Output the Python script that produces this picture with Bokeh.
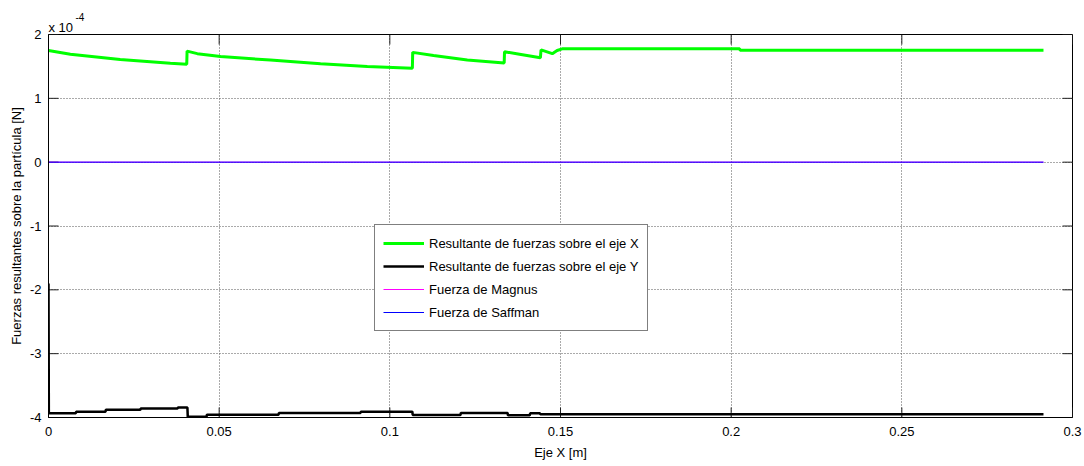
import math
from bokeh.plotting import figure
from bokeh.models import Range1d, FixedTicker, Legend, LegendItem, Title
from bokeh.embed import file_html
from bokeh.resources import INLINE

# Forces on the particle along the X axis, in units of 1e-4 N
x_fx = [0.0, 0.0064, 0.021, 0.0357, 0.0405, 0.0406, 0.0436, 0.0504, 0.065, 0.0797,
        0.0835, 0.0934, 0.1066, 0.1067, 0.1128, 0.1227, 0.1335, 0.1336, 0.138, 0.1441,
        0.1443, 0.1476, 0.149, 0.1505, 0.2025, 0.2026, 0.2915]
fx_e4 = [1.75, 1.69, 1.61, 1.55, 1.535, 1.74, 1.70, 1.655, 1.60, 1.54,
         1.53, 1.50, 1.47, 1.72, 1.67, 1.60, 1.555, 1.73, 1.69, 1.635,
         1.76, 1.70, 1.75, 1.775, 1.775, 1.755, 1.755]

# Resultant force along the Y axis, in units of 1e-4 N
x_fy = [0.0, 0.0001, 0.008, 0.0081, 0.0167, 0.0168, 0.0269, 0.027, 0.0378, 0.0379,
        0.0407, 0.0408, 0.0463, 0.0464, 0.0674, 0.0675, 0.0914, 0.0915, 0.1066, 0.1067,
        0.1207, 0.1208, 0.1345, 0.1346, 0.141, 0.1411, 0.144, 0.1441, 0.2915]
fy_e4 = [-1.9, -3.935, -3.935, -3.91, -3.91, -3.88, -3.88, -3.86, -3.86, -3.845,
         -3.845, -3.99, -3.99, -3.955, -3.955, -3.93, -3.93, -3.91, -3.91, -3.96,
         -3.96, -3.93, -3.93, -3.965, -3.965, -3.935, -3.935, -3.95, -3.95]

# Magnus and Saffman forces (zero along the path)
x_lift = [0.0, 0.2915]
magnus_e4 = [0.0, 0.0]
saffman_e4 = [0.0, 0.0]

x_ticks = [0, 0.05, 0.1, 0.15, 0.2, 0.25, 0.3]
x_tick_labels = ["0", "0.05", "0.1", "0.15", "0.2", "0.25", "0.3"]
y_ticks = [-4, -3, -2, -1, 0, 1, 2]
y_tick_labels = ["-4", "-3", "-2", "-1", "0", "1", "2"]

labels = ["Resultante de fuerzas sobre el eje X",
          "Resultante de fuerzas sobre el eje Y",
          "Fuerza de Magnus",
          "Fuerza de Saffman"]

FONT = "Liberation Sans"
FS = "13px"
X_MIN, X_MAX = 0.0, 0.3
Y_MIN, Y_MAX = -4.0, 2.0

p = figure(width=1084, height=466, x_range=Range1d(X_MIN, X_MAX), y_range=Range1d(Y_MIN, Y_MAX),
           output_backend="svg", toolbar_location=None,
           min_border_left=48, min_border_right=12, min_border_top=34, min_border_bottom=49,
           x_axis_label="Eje X [m]",
           y_axis_label="Fuerzas resultantes sobre la partícula [N]")

p.background_fill_color = "white"
p.border_fill_color = "white"
p.outline_line_color = "black"
p.outline_line_width = 1

for ax, ticks, lbls in ((p.xaxis[0], x_ticks, x_tick_labels), (p.yaxis[0], y_ticks, y_tick_labels)):
    ax.ticker = FixedTicker(ticks=ticks)
    ax.major_label_overrides = {t: l for t, l in zip(ticks, lbls)}
    ax.major_tick_in = 0
    ax.major_tick_out = 0
    ax.minor_tick_line_color = None
    ax.axis_line_color = "black"
    ax.major_label_text_font = FONT
    ax.major_label_text_font_size = FS
    ax.major_label_text_color = "black"
    ax.axis_label_text_font = FONT
    ax.axis_label_text_font_size = FS
    ax.axis_label_text_font_style = "normal"
    ax.axis_label_text_color = "black"

p.xaxis.major_label_standoff = 9
p.xaxis.axis_label_standoff = 6
p.yaxis.major_label_standoff = 7
p.yaxis.axis_label_standoff = 3

# Exponent of the Y scale, written above the top-left corner
p.add_layout(Title(text="x 10", align="left", offset=0, standoff=0,
                   text_font=FONT, text_font_size=FS, text_font_style="normal",
                   text_color="black"), "above")
p.add_layout(Title(text="-4", align="left", offset=27, standoff=-6,
                   text_font=FONT, text_font_size="10px", text_font_style="normal",
                   text_color="black"), "above")

for g, ticks in ((p.xgrid[0], x_ticks), (p.ygrid[0], y_ticks)):
    g.ticker = FixedTicker(ticks=ticks)
    g.grid_line_color = "#555555"
    g.grid_line_dash = "1 2"
    g.grid_line_width = 1

# Inward tick marks on all four sides of the box
TICK = 10
tick_style = dict(length=TICK, length_units="screen", line_color="#222222", line_width=1)
p.ray(x=x_ticks, y=[Y_MIN] * len(x_ticks), angle=math.pi / 2, **tick_style)
p.ray(x=x_ticks, y=[Y_MAX] * len(x_ticks), angle=-math.pi / 2, **tick_style)
p.ray(x=[X_MIN] * len(y_ticks), y=y_ticks, angle=0, **tick_style)
p.ray(x=[X_MAX] * len(y_ticks), y=y_ticks, angle=math.pi, **tick_style)

r_fx = p.line(x_fx, fx_e4, line_color="#00FF00", line_width=3)
r_fy = p.line(x_fy, fy_e4, line_color="black", line_width=2.5)
r_mag = p.line(x_lift, magnus_e4, line_color="#FF00FF", line_width=1)
r_saf = p.line(x_lift, saffman_e4, line_color="#0000FF", line_width=1)

legend = Legend(items=[LegendItem(label=labels[0], renderers=[r_fx]),
                       LegendItem(label=labels[1], renderers=[r_fy]),
                       LegendItem(label=labels[2], renderers=[r_mag]),
                       LegendItem(label=labels[3], renderers=[r_saf])],
                location=(326, 86))
legend.label_text_font = FONT
legend.label_text_font_size = FS
legend.label_text_color = "black"
legend.border_line_color = "black"
legend.border_line_width = 1
legend.background_fill_color = "white"
legend.background_fill_alpha = 1
legend.glyph_width = 41
legend.glyph_height = 20
legend.label_height = 20
legend.label_standoff = 5
legend.spacing = 3
legend.padding = 8
legend.margin = 0
p.add_layout(legend)

open("out.html", "w").write(file_html(p, INLINE))
